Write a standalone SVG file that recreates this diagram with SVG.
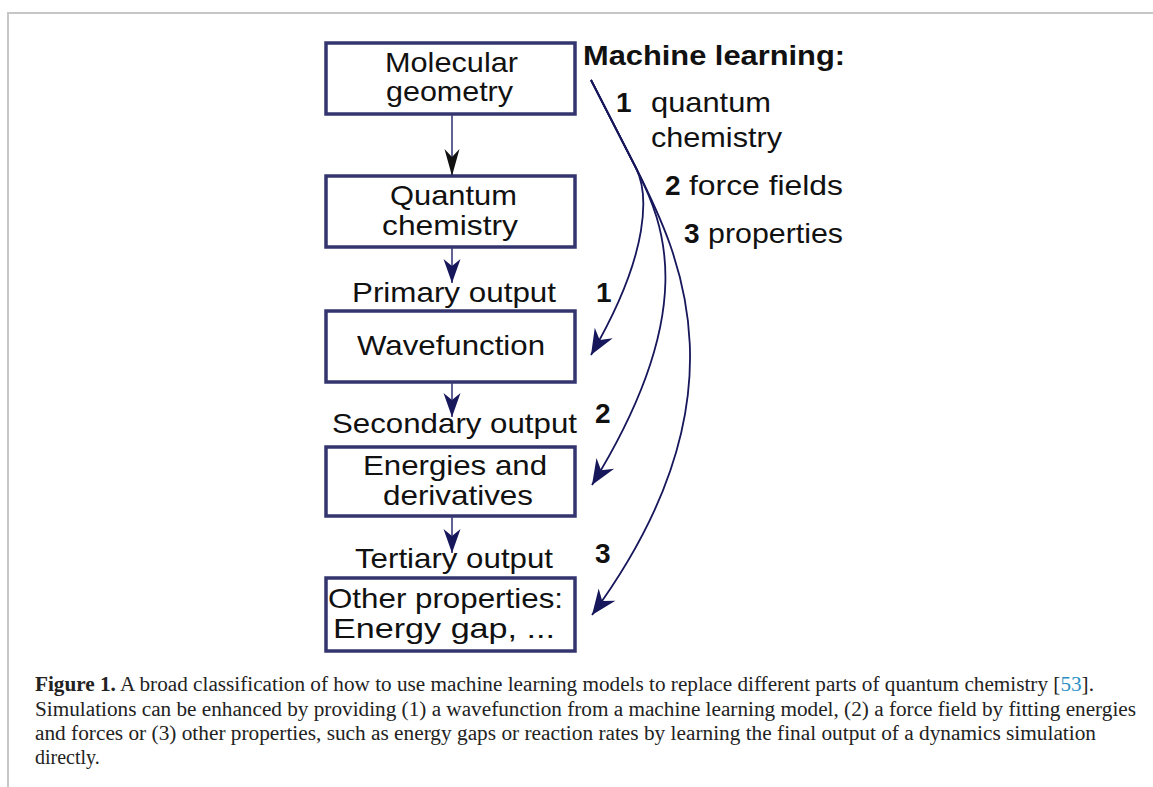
<svg xmlns="http://www.w3.org/2000/svg" width="1153" height="787" viewBox="0 0 1153 787">
<style>
.box{fill:#ffffff;stroke:#34346f;stroke-width:3.5}
.t{font-family:"Liberation Sans",Arial,sans-serif;font-size:28px;fill:#111111}
.b{font-weight:bold}
.cap{font-family:"Liberation Serif","Times New Roman",serif;font-size:20px;fill:#222222}
.curve{fill:none;stroke:#17175c;stroke-width:1.8}
.vline{fill:none;stroke:#3a3a78;stroke-width:1.6}
</style>
<defs>
<marker id="ah" markerUnits="userSpaceOnUse" markerWidth="30" markerHeight="30" viewBox="-24 -12 26 24" refX="0" refY="0" orient="auto">
<path d="M0,0 L-22,-9 L-15,0 L-22,9 Z" fill="#17175c"/>
</marker>
<marker id="ahv" markerUnits="userSpaceOnUse" markerWidth="30" markerHeight="30" viewBox="-28 -12 30 24" refX="0" refY="0" orient="auto">
<path d="M0,0 L-24,-8.5 L-17,0 L-24,8.5 Z" fill="#17175c"/>
</marker>
<marker id="ahk" markerUnits="userSpaceOnUse" markerWidth="32" markerHeight="30" viewBox="-30 -12 32 24" refX="0" refY="0" orient="auto">
<path d="M0,0 L-27,-7.5 L-19,0 L-27,7.5 Z" fill="#111111"/>
</marker>
</defs>
<rect width="1153" height="787" fill="#ffffff"/>
<g id="frame" fill="none" stroke="#c6c6c6" stroke-width="2">
<path d="M8,787 L8,13 L1153,13"/>
</g>
<g id="n1"><rect class="box" x="326" y="43" width="249" height="71"/>
<text class="t" x="385" y="72" textLength="133" lengthAdjust="spacingAndGlyphs">Molecular</text>
<text class="t" x="386" y="101" textLength="127" lengthAdjust="spacingAndGlyphs">geometry</text></g>
<g id="n2"><rect class="box" x="326" y="176" width="249" height="71"/>
<text class="t" x="390" y="205" textLength="127" lengthAdjust="spacingAndGlyphs">Quantum</text>
<text class="t" x="382" y="235" textLength="136" lengthAdjust="spacingAndGlyphs">chemistry</text></g>
<g id="l1"><text class="t" x="352" y="302" textLength="204" lengthAdjust="spacingAndGlyphs">Primary output</text></g>
<g id="n3"><rect class="box" x="326" y="311" width="249" height="71"/>
<text class="t" x="357" y="355" textLength="188" lengthAdjust="spacingAndGlyphs">Wavefunction</text></g>
<g id="l2"><text class="t" x="332" y="433" textLength="245" lengthAdjust="spacingAndGlyphs">Secondary output</text></g>
<g id="n4"><rect class="box" x="326" y="447" width="249" height="69"/>
<text class="t" x="363" y="475" textLength="184" lengthAdjust="spacingAndGlyphs">Energies and</text>
<text class="t" x="383" y="505" textLength="150" lengthAdjust="spacingAndGlyphs">derivatives</text></g>
<g id="l3"><text class="t" x="355" y="568" textLength="198" lengthAdjust="spacingAndGlyphs">Tertiary output</text></g>
<g id="n5"><rect class="box" x="326" y="578" width="249" height="73"/>
<text class="t" x="328" y="608" textLength="235" lengthAdjust="spacingAndGlyphs">Other properties:</text>
<text class="t" x="333" y="638" textLength="222" lengthAdjust="spacingAndGlyphs">Energy gap, ...</text></g>
<g id="ml">
<text class="t b" x="583" y="65" textLength="262" lengthAdjust="spacingAndGlyphs">Machine learning:</text>
<text class="t b" x="616" y="112">1</text>
<text class="t" x="651" y="112" textLength="120" lengthAdjust="spacingAndGlyphs">quantum</text>
<text class="t" x="651" y="147" textLength="131" lengthAdjust="spacingAndGlyphs">chemistry</text>
<text class="t b" x="665" y="195">2</text>
<text class="t" x="689" y="195" textLength="154" lengthAdjust="spacingAndGlyphs">force fields</text>
<text class="t b" x="684" y="243">3</text>
<text class="t" x="708" y="243" textLength="135" lengthAdjust="spacingAndGlyphs">properties</text>
<text class="t b" x="596" y="302">1</text>
<text class="t b" x="595" y="423">2</text>
<text class="t b" x="595" y="563">3</text>
</g>
<g id="connectors">
<path class="vline" d="M452,114 L452,176" marker-end="url(#ahk)"/>
<path class="vline" d="M452,247 L452,283" marker-end="url(#ahv)"/>
<path class="vline" d="M452,382 L452,417" marker-end="url(#ahv)"/>
<path class="vline" d="M452,516 L452,553" marker-end="url(#ahv)"/>
<path class="curve" d="M591,80 L636,168 C648,192 652,250 591,355" marker-end="url(#ah)"/>
<path class="curve" d="M591,80 L636,168 C665,225 700,310 592,485" marker-end="url(#ah)"/>
<path class="curve" d="M591,80 L636,168 C680,255 750,400 592,615" marker-end="url(#ah)"/>
</g>
<g id="caption">
<text class="cap" x="35" y="691" textLength="1059" lengthAdjust="spacingAndGlyphs"><tspan font-weight="bold">Figure 1.</tspan> A broad classification of how to use machine learning models to replace different parts of quantum chemistry [<tspan fill="#2b8fc4">53</tspan>].</text>
<text class="cap" x="35" y="716" textLength="1101" lengthAdjust="spacingAndGlyphs">Simulations can be enhanced by providing (1) a wavefunction from a machine learning model, (2) a force field by fitting energies</text>
<text class="cap" x="35" y="740" textLength="1061" lengthAdjust="spacingAndGlyphs">and forces or (3) other properties, such as energy gaps or reaction rates by learning the final output of a dynamics simulation</text>
<text class="cap" x="35" y="764">directly.</text>
</g>
</svg>
